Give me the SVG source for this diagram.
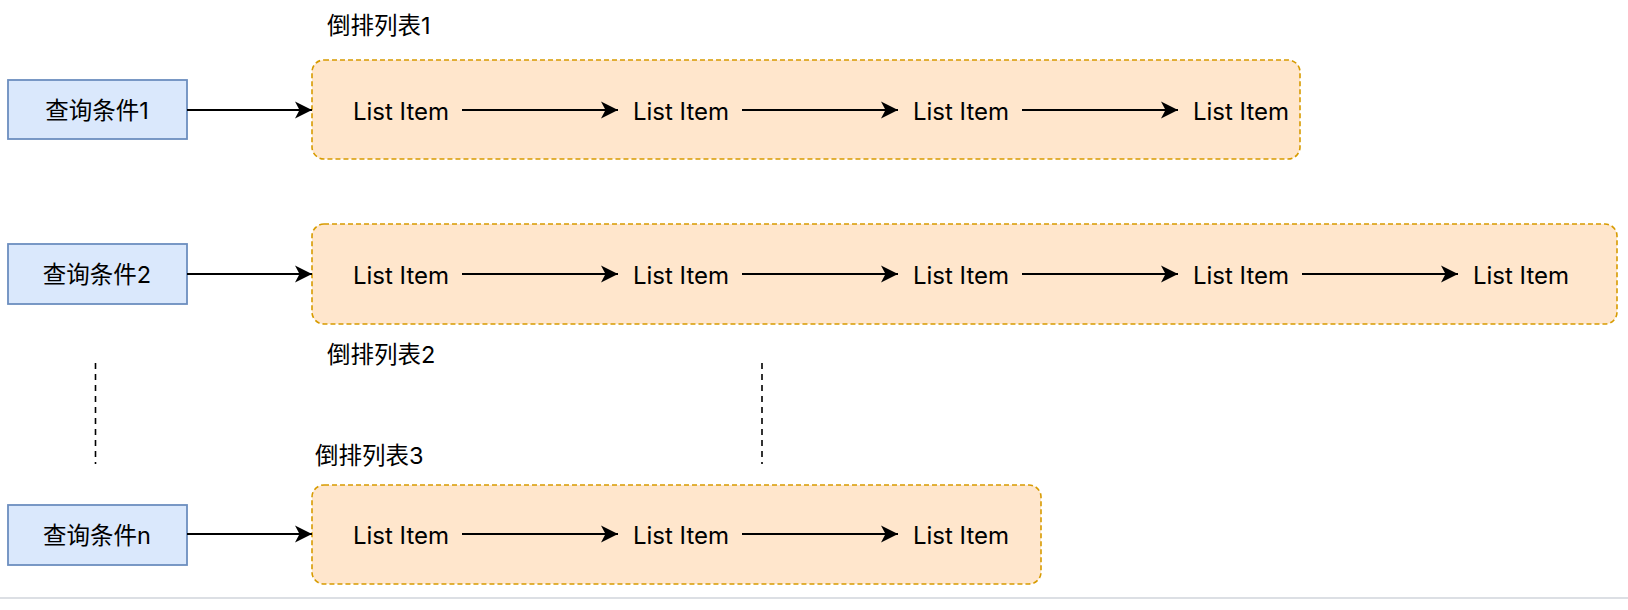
<svg xmlns="http://www.w3.org/2000/svg" width="1628" height="610" viewBox="0 0 1628 610">
<style>
text{font-family:Inter,"Noto Sans CJK SC",sans-serif;font-size:23.5px;fill:#000;dominant-baseline:central}
.li{font-size:24px}
.q{fill:#dae8fc;stroke:#6c8ebf;stroke-width:1.8}
.c{fill:#ffe6cc;stroke:#d79b00;stroke-width:1.6;stroke-dasharray:5 3}
.e{stroke:#000;stroke-width:1.8;fill:none;marker-end:url(#arr)}
.d{stroke:#000;stroke-width:1.6;stroke-dasharray:6 5;fill:none}
.m{text-anchor:middle}
</style>
<defs>
<marker id="arr" markerUnits="userSpaceOnUse" markerWidth="20" markerHeight="20" viewBox="-18 -10 20 20" refX="0" refY="0" orient="auto">
<path d="M0,0 L-17,-8.5 L-12.5,0 L-17,8.5 Z" fill="#000"/>
</marker>
</defs>
<rect x="0" y="0" width="1628" height="610" fill="#fff"/>
<rect x="0" y="597" width="1628" height="2" fill="#dcdfe4"/>

<g id="container1"><rect class="c" x="312" y="60" width="988" height="99" rx="12"/><text x="327" y="25">倒排列表1</text></g>
<g id="container2"><rect class="c" x="312" y="224" width="1305" height="100" rx="12"/><text x="327" y="354">倒排列表2</text></g>
<g id="container3"><rect class="c" x="312" y="485" width="729" height="99" rx="12"/><text x="315" y="455">倒排列表3</text></g>

<g id="q1"><rect class="q" x="8" y="80" width="179" height="59"/><text class="m" x="97" y="110">查询条件1</text></g>
<g id="q2"><rect class="q" x="8" y="244" width="179" height="60"/><text class="m" x="97" y="274">查询条件2</text></g>
<g id="qn"><rect class="q" x="8" y="505" width="179" height="60"/><text class="m" x="97" y="535">查询条件n</text></g>

<g id="r1i1"><text class="m li" x="401" y="111">List Item</text></g>
<g id="r1i2"><text class="m li" x="681" y="111">List Item</text></g>
<g id="r1i3"><text class="m li" x="961" y="111">List Item</text></g>
<g id="r1i4"><text class="m li" x="1241" y="111">List Item</text></g>

<g id="r2i1"><text class="m li" x="401" y="275">List Item</text></g>
<g id="r2i2"><text class="m li" x="681" y="275">List Item</text></g>
<g id="r2i3"><text class="m li" x="961" y="275">List Item</text></g>
<g id="r2i4"><text class="m li" x="1241" y="275">List Item</text></g>
<g id="r2i5"><text class="m li" x="1521" y="275">List Item</text></g>

<g id="r3i1"><text class="m li" x="401" y="535">List Item</text></g>
<g id="r3i2"><text class="m li" x="681" y="535">List Item</text></g>
<g id="r3i3"><text class="m li" x="961" y="535">List Item</text></g>

<g id="connectors">
<path class="e" d="M187,110 H312"/>
<path class="e" d="M462,110 H618"/>
<path class="e" d="M742,110 H898"/>
<path class="e" d="M1022,110 H1178"/>

<path class="e" d="M187,274 H312"/>
<path class="e" d="M462,274 H618"/>
<path class="e" d="M742,274 H898"/>
<path class="e" d="M1022,274 H1178"/>
<path class="e" d="M1302,274 H1458"/>

<path class="e" d="M187,534 H312"/>
<path class="e" d="M462,534 H618"/>
<path class="e" d="M742,534 H898"/>

<path class="d" d="M95.5,363 V464"/>
<path class="d" d="M762,363 V464"/>
</g>
</svg>
